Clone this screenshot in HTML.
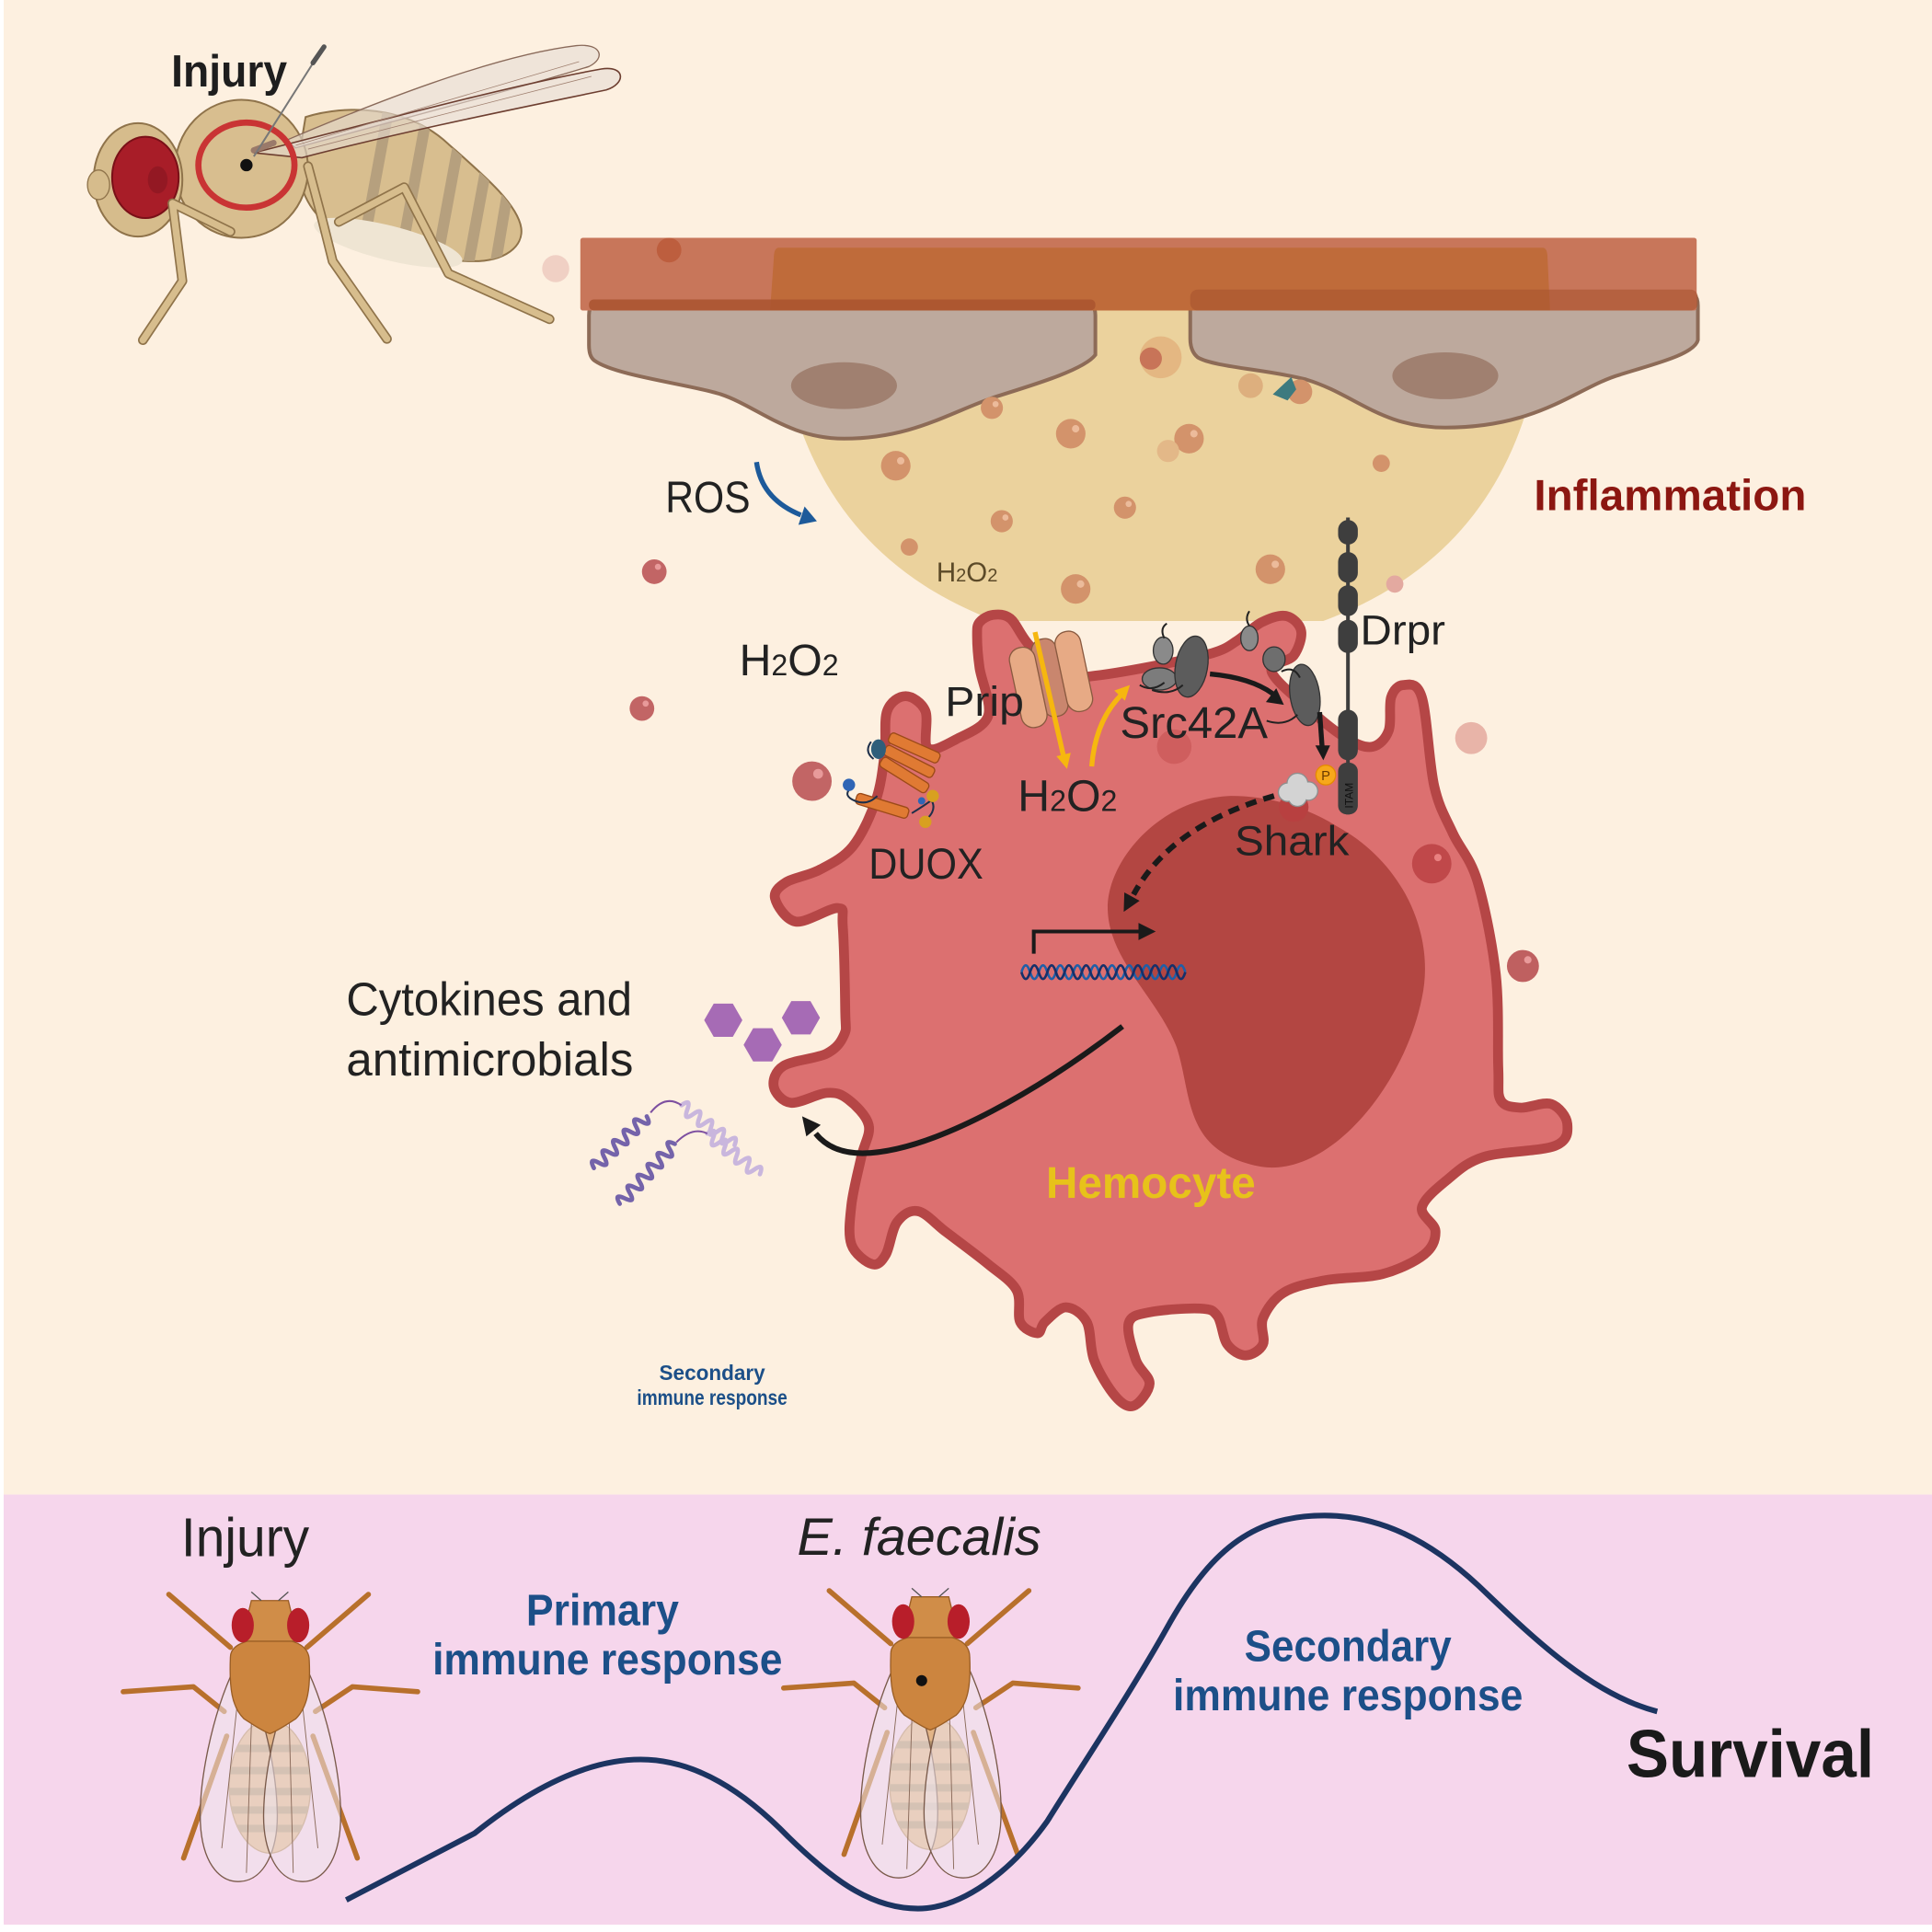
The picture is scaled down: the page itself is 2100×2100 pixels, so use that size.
<!DOCTYPE html>
<html><head><meta charset="utf-8"><style>
html,body{margin:0;padding:0;background:#fff;}
svg{display:block;}
text{font-family:"Liberation Sans",Arial,sans-serif;}
</style></head><body>
<svg xmlns="http://www.w3.org/2000/svg" xmlns:xlink="http://www.w3.org/1999/xlink" width="2100" height="2100" viewBox="0 0 1568 1568">
<defs>
  <clipPath id="abdTop"><path d="M248 95 C280 85,330 85,364 117 C390 140,420 165,423 185 C425 200,410 212,384 212 C350 212,300 205,270 185 C250 172,240 150,243 125 Z"/></clipPath>
  <clipPath id="abdBot"><ellipse cx="219" cy="1450" rx="33" ry="54"/></clipPath>
  <g id="fly">
    <g fill="none" stroke="#B8702C" stroke-width="4.2" stroke-linecap="round" stroke-linejoin="round">
      <path d="M187 1337 L137 1294"/>
      <path d="M249 1337 L299 1294"/>
      <path d="M182 1389 L157 1369 L100 1373"/>
      <path d="M256 1389 L286 1369 L339 1373"/>
      <path d="M184 1409 L149 1508"/>
      <path d="M254 1409 L290 1508"/>
    </g>
    <ellipse cx="219" cy="1450" rx="33" ry="54" fill="#E2B487" stroke="#B88A5E" stroke-width="1"/>
    <g clip-path="url(#abdBot)" fill="#B7976F">
      <rect x="180" y="1416" width="80" height="6"/>
      <rect x="180" y="1434" width="80" height="6"/>
      <rect x="180" y="1451" width="80" height="6"/>
      <rect x="180" y="1466" width="80" height="6"/>
      <rect x="180" y="1481" width="80" height="6"/>
    </g>
    <path d="M192 1350 C172 1390,160 1450,163 1485 C166 1515,180 1528,195 1527 C215 1526,226 1500,225 1470 C224 1430,212 1390,205 1370 Z" fill="#EEE6EC" fill-opacity="0.55" stroke="#7A5A4A" stroke-width="1"/>
    <path d="M247 1350 C267 1390,279 1450,276 1485 C273 1515,259 1528,244 1527 C224 1526,213 1500,214 1470 C215 1430,227 1390,234 1370 Z" fill="#EEE6EC" fill-opacity="0.55" stroke="#7A5A4A" stroke-width="1"/>
    <path d="M195 1360 L180 1500 M205 1370 L200 1520 M243 1360 L258 1500 M234 1370 L238 1520" stroke="#8A6A5A" stroke-width="0.7" fill="none"/>
    <path d="M187 1345 C187 1335,200 1330,219 1330 C238 1330,251 1335,251 1348 C252 1370,250 1385,240 1395 C232 1400,225 1405,219 1407 C213 1405,206 1400,198 1395 C188 1385,186 1370,187 1345 Z" fill="#CC853F" stroke="#9A5E25" stroke-width="1"/>
    <path d="M204 1299 L234 1299 L242 1332 L196 1332 Z" fill="#D08D48" stroke="#9A5E25" stroke-width="1"/>
    <ellipse cx="197" cy="1319" rx="9" ry="14" fill="#B81E2A"/>
    <ellipse cx="242" cy="1319" rx="9" ry="14" fill="#B81E2A"/>
    <path d="M212 1299 L204 1292 M226 1299 L234 1292" stroke="#555" stroke-width="1"/>
  </g>
</defs>

<rect x="0" y="0" width="1568" height="1568" fill="#ffffff"/>
<rect x="3" y="0" width="1565" height="1213" fill="#FDF0E0"/>
<rect x="3" y="1213" width="1565" height="349" fill="#F6D6EC"/>

<!-- ============ top-left fly ============ -->
<g>
  <path d="M248 95 C280 85,330 85,364 117 C390 140,420 165,423 185 C425 200,410 212,384 212 C350 212,300 205,270 185 C250 172,240 150,243 125 Z" fill="#D8BE8F" stroke="#8F734A" stroke-width="1.5"/>
  <g clip-path="url(#abdTop)" stroke="#B6A07E" stroke-width="9">
    <line x1="316" y1="85" x2="292" y2="215"/>
    <line x1="348" y1="85" x2="324" y2="215"/>
    <line x1="378" y1="85" x2="354" y2="215"/>
    <line x1="404" y1="85" x2="380" y2="215"/>
    <line x1="424" y1="85" x2="402" y2="215"/>
  </g>
  <ellipse cx="315" cy="197" rx="62" ry="14" transform="rotate(14 315 197)" fill="#EFE5D3"/>
  <ellipse cx="196" cy="137" rx="54" ry="56" fill="#D8BE8F" stroke="#8F734A" stroke-width="1.5"/>
  <ellipse cx="112" cy="146" rx="36" ry="46" fill="#D6BC8C" stroke="#8F734A" stroke-width="1.5"/>
  <ellipse cx="80" cy="150" rx="9" ry="12" fill="#D6BC8C" stroke="#8F734A" stroke-width="1"/>
  <ellipse cx="118" cy="144" rx="27" ry="33" fill="#A81D28" stroke="#7A1018" stroke-width="1.5"/>
  <ellipse cx="128" cy="146" rx="8" ry="11" fill="#861520" opacity="0.6"/>
  <g fill="none" stroke-linecap="round" stroke-linejoin="round">
    <path d="M187 188 L140 165 L148 228 L116 276" stroke="#8F734A" stroke-width="8"/>
    <path d="M187 188 L140 165 L148 228 L116 276" stroke="#D7BD8D" stroke-width="5.5"/>
    <path d="M250 135 L262 180 L270 212 L314 275" stroke="#8F734A" stroke-width="8"/>
    <path d="M250 135 L262 180 L270 212 L314 275" stroke="#D7BD8D" stroke-width="5.5"/>
    <path d="M275 180 L328 152 L364 222 L446 259" stroke="#8F734A" stroke-width="8"/>
    <path d="M275 180 L328 152 L364 222 L446 259" stroke="#D7BD8D" stroke-width="5.5"/>
  </g>
  <path d="M232 114 C300 85,400 45,468 37 C488 35,492 47,478 54 C410 75,320 98,240 120 Z" fill="#E6DCD4" fill-opacity="0.6" stroke="#8A6A5A" stroke-width="1"/>
  <path d="M206 124 C300 100,420 68,488 56 C508 53,508 68,492 73 C420 88,330 106,245 128 Z" fill="#E6DCD4" fill-opacity="0.6" stroke="#6D3E30" stroke-width="1.2"/>
  <path d="M240 118 L470 50 M250 121 L480 62" stroke="#A08070" stroke-width="0.6" fill="none"/>
  <path d="M206 122 L222 116" stroke="#9A7A6A" stroke-width="5" stroke-linecap="round"/>
  <ellipse cx="200" cy="134" rx="39" ry="34.5" fill="none" stroke="#C93434" stroke-width="5"/>
  <circle cx="200" cy="134" r="5" fill="#111"/>
  <line x1="206" y1="127" x2="258" y2="45" stroke="#777" stroke-width="1.5"/>
  <line x1="254" y1="51" x2="263" y2="38" stroke="#555" stroke-width="4" stroke-linecap="round"/>
</g>

<!-- ============ inflammation blob / epithelium ============ -->
<path d="M628 205 C628 330,665 450,808 504 L1074 504 C1219 450,1256 330,1256 205 Z" fill="#EBD29D"/>

<path d="M490 244 L877 244 Q889 244 889 256 L889 288 C880 300,840 312,808 322 C770 335,740 356,685 356 C640 356,615 330,585 320 C560 312,500 305,483 293 Q478 290 478 280 L478 256 Q478 244 490 244 Z" fill="#BDA99D" stroke="#8D6B57" stroke-width="3"/>
<ellipse cx="685" cy="313" rx="43" ry="19" fill="#A08070"/>
<path d="M978 236 L1366 236 Q1378 236 1378 248 L1378 276 C1375 288,1340 296,1315 304 C1280 314,1250 347,1173 347 C1120 347,1100 320,1060 308 C1030 300,985 298,972 290 Q966 285 966 275 L966 248 Q966 236 978 236 Z" fill="#BDA99D" stroke="#8D6B57" stroke-width="3"/>
<ellipse cx="1173" cy="305" rx="43" ry="19" fill="#A08070"/>

<rect x="471" y="193" width="906" height="59" rx="2" fill="#C8765A"/>
<path d="M632 201 L1252 201 Q1256 201 1256 210 L1258 252 L625 252 L628 210 Q628 201 632 201 Z" fill="#BF6B3A"/>
<rect x="478" y="243" width="411" height="9" rx="4" fill="#A9532F" opacity="0.85"/>
<rect x="966" y="235" width="412" height="17" rx="6" fill="#A9532F" opacity="0.6"/>

<!-- droplets -->
<g>
  <circle cx="543" cy="203" r="10" fill="#BD5E3E"/>
  <circle cx="451" cy="218" r="11" fill="#F0D0C4"/>
  <circle cx="942" cy="290" r="17" fill="#E2B07C" opacity="0.8"/>
  <circle cx="934" cy="291" r="9" fill="#C87458"/>
  <circle cx="1015" cy="313" r="10" fill="#DDAF7E"/>
  <circle cx="1055" cy="318" r="10" fill="#D3936B"/>
  <polygon points="1033,320 1048,306 1052,316 1045,325" fill="#3D7A7F"/>
  <circle cx="805" cy="331" r="9" fill="#D3936B"/>
  <circle cx="869" cy="352" r="12" fill="#D3936B"/>
  <circle cx="965" cy="356" r="12" fill="#D3936B"/>
  <circle cx="948" cy="366" r="9" fill="#E3B888"/>
  <circle cx="727" cy="378" r="12" fill="#D3936B"/>
  <circle cx="1121" cy="376" r="7" fill="#D3936B"/>
  <circle cx="913" cy="412" r="9" fill="#D3936B"/>
  <circle cx="813" cy="423" r="9" fill="#D3936B"/>
  <circle cx="738" cy="444" r="7" fill="#D3936B"/>
  <circle cx="1031" cy="462" r="12" fill="#D3936B"/>
  <circle cx="873" cy="478" r="12" fill="#D3936B"/>
  <circle cx="1132" cy="474" r="7" fill="#E3A9A0"/>
  <circle cx="531" cy="464" r="10" fill="#C26565"/>
  <circle cx="521" cy="575" r="10" fill="#C26565"/>
  <circle cx="659" cy="634" r="16" fill="#C26565"/>
  <circle cx="1194" cy="599" r="13" fill="#E8B4A8"/>
  <circle cx="1236" cy="784" r="13" fill="#BF6060"/>
  <g fill="#F2C6A8" opacity="0.8">
    <circle cx="808" cy="328" r="2.5"/><circle cx="873" cy="348" r="3"/><circle cx="969" cy="352" r="3"/>
    <circle cx="731" cy="374" r="3"/><circle cx="916" cy="409" r="2.5"/><circle cx="816" cy="420" r="2.5"/>
    <circle cx="1035" cy="458" r="3"/><circle cx="877" cy="474" r="3"/>
  </g>
  <g fill="#E89A9A">
    <circle cx="534" cy="460" r="2.5"/><circle cx="524" cy="571" r="2.5"/><circle cx="664" cy="628" r="4"/><circle cx="1240" cy="779" r="3"/>
  </g>
  <text x="760" y="472" font-size="22" fill="#5C4A28">H<tspan font-size="15">2</tspan>O<tspan font-size="15">2</tspan></text>
</g>

<!-- ============ hemocyte ============ -->
<path class="sm" d="M793,516 L795,505 L806,499 L820,502 L834,522 L859,549 L884,549 L934,541 L984,530 L1004,520 L1024,505 L1044,500 L1056,512 L1050,532 L1032,545 L1064,577 L1094,600 L1114,606 L1127,593 L1129,566 L1139,556 L1154,566 L1164,638 L1179,676 L1199,715 L1214,791 L1216,867 L1218,893 L1234,899 L1259,896 L1272,912 L1262,930 L1204,939 L1174,958 L1154,980 L1165,999 L1156,1018 L1122,1034 L1076,1039 L1042,1049 L1025,1070 L1025,1091 L1011,1100 L996,1091 L988,1068 L974,1062 L933,1065 L916,1074 L922,1104 L933,1123 L920,1141 L905,1133 L888,1104 L882,1073 L865,1061 L848,1073 L842,1082 L828,1073 L825,1047 L802,1026 L768,1000 L745,983 L728,992 L719,1018 L708,1026 L691,1010 L691,978 L699,939 L705,913 L688,892 L671,887 L642,895 L628,882 L636,865 L671,855 L685,840 L686,821 L684,752 L680,737 L646,748 L629,729 L638,716 L665,706 L692,687 L711,649 L718,611 L720,577 L735,565 L751,577 L753,607 L776,600 L802,581 L795,542 Z" fill="#DC7070" stroke="#B54646" stroke-width="8" stroke-linejoin="round"/>

<circle cx="953" cy="606" r="14" fill="#CF5E5E"/>
<circle cx="1162" cy="701" r="16" fill="#C0484A"/>
<circle cx="1167" cy="696" r="3" fill="#E98080"/>

<path d="M999 646 C940 648,898 700,899 738 C900 780,940 810,955 850 C968 890,960 935,1024 947 C1080 955,1140 880,1154 810 C1165 760,1140 700,1084 670 C1060 655,1030 646,999 646 Z" fill="#B34642"/>
<circle cx="1050" cy="655" r="12" fill="#B84040"/>

<!-- Prip -->
<rect x="842" y="518" width="20" height="64" rx="9" fill="#C9866E" stroke="#8A5A40" stroke-width="1" transform="rotate(-12 852 550)"/>
<rect x="824" y="525" width="21" height="66" rx="10" fill="#E7AA85" stroke="#8A5A40" stroke-width="1" transform="rotate(-12 834 558)"/>
<rect x="861" y="512" width="21" height="66" rx="10" fill="#E7AA85" stroke="#8A5A40" stroke-width="1" transform="rotate(-12 871 545)"/>

<!-- yellow arrows -->
<line x1="840" y1="513" x2="863" y2="613" stroke="#F6B70F" stroke-width="4"/>
<polygon points="866,624 857.4,613.8 869,611" fill="#F6B70F"/>
<path d="M886 622 Q889 585 910 564" fill="none" stroke="#F6B70F" stroke-width="4"/>
<polygon points="917,556 913,568.7 904.4,560.5" fill="#F6B70F"/>

<!-- DUOX -->
<g fill="#E07A33" stroke="#9C4A18" stroke-width="1">
  <rect x="-22" y="-4.5" width="44" height="9" rx="3" transform="translate(742,607) rotate(24)"/>
  <rect x="-22" y="-4.5" width="44" height="9" rx="3" transform="translate(738,618) rotate(27)"/>
  <rect x="-22" y="-4.5" width="44" height="9" rx="3" transform="translate(734,629) rotate(32)"/>
  <rect x="-22" y="-4.5" width="44" height="9" rx="3" transform="translate(716,654) rotate(17)"/>
</g>
<path d="M707 602 q-6 8 2 14 M690 640 q-6 6 4 10 q10 4 18 -4 M740 660 q10 -6 18 -12 M755 648 q6 8 -2 16" fill="none" stroke="#1E2F4A" stroke-width="1.5"/>
<ellipse cx="713" cy="608" rx="6" ry="8" fill="#2E5E7A"/>
<circle cx="689" cy="637" r="5" fill="#2F65B5"/>
<circle cx="748" cy="650" r="3" fill="#2F65B5"/>
<circle cx="757" cy="646" r="5" fill="#D8A020"/>
<circle cx="751" cy="667" r="5" fill="#D8A020"/>

<!-- Src42A -->
<g stroke="#333" stroke-width="1">
  <ellipse cx="944" cy="528" rx="8" ry="11" fill="#8A8A8A"/>
  <ellipse cx="941" cy="551" rx="14" ry="9" fill="#7C7C7C"/>
  <ellipse cx="967" cy="541" rx="13" ry="25" fill="#5C5C5C" transform="rotate(10 967 541)"/>
  <ellipse cx="1014" cy="518" rx="7" ry="10" fill="#8A8A8A"/>
  <ellipse cx="1034" cy="535" rx="9" ry="10" fill="#6E6E6E"/>
  <ellipse cx="1059" cy="564" rx="12" ry="25" fill="#5C5C5C" transform="rotate(-8 1059 564)"/>
</g>
<path d="M925 556 q10 6 20 -2 M945 518 q-4 -8 2 -12 M1014 508 q-4 -6 0 -12 M1040 545 q10 -5 15 5 M1028 585 q15 5 25 -5 M935 560 q15 5 25 -4" fill="none" stroke="#222" stroke-width="1.5"/>

<!-- black arrows -->
<path d="M982 547 Q1015 550 1033 563" fill="none" stroke="#1A1A1A" stroke-width="4"/>
<polygon points="1042,572 1027.4,569.8 1035.8,558.6" fill="#1A1A1A"/>
<line x1="1071" y1="578" x2="1073" y2="606" stroke="#1A1A1A" stroke-width="4"/>
<polygon points="1074,617 1067.5,605 1079.5,605" fill="#1A1A1A"/>
<path d="M1034 646 Q950 670 920 726" fill="none" stroke="#1A1A1A" stroke-width="4.5" stroke-dasharray="9 6"/>
<polygon points="912,740 924.9,731.1 912.5,724.3" fill="#1A1A1A"/>
<path d="M839 774 L839 756 L925 756" fill="none" stroke="#1A1A1A" stroke-width="3"/>
<polygon points="938,756 924,749 924,763" fill="#1A1A1A"/>
<path d="M829 789 q3.5 -11 7 0 t7 0 t7 0 t7 0 t7 0 t7 0 t7 0 t7 0 t7 0 t7 0 t7 0 t7 0 t7 0 t7 0 t7 0 t7 0 t7 0 t7 0 t7 0" fill="none" stroke="#1F5FA8" stroke-width="2"/>
<path d="M829 789 q3.5 11 7 0 t7 0 t7 0 t7 0 t7 0 t7 0 t7 0 t7 0 t7 0 t7 0 t7 0 t7 0 t7 0 t7 0 t7 0 t7 0 t7 0 t7 0 t7 0" fill="none" stroke="#16306A" stroke-width="2"/>
<path d="M911 833 C850 880,760 935,700 936 C682 936,670 930,662 920" fill="none" stroke="#1A1A1A" stroke-width="4.5"/>
<polygon points="651,906 666.1,913 654.4,922.3" fill="#1A1A1A"/>

<!-- Drpr -->
<line x1="1094" y1="420" x2="1094" y2="661" stroke="#3D3D3D" stroke-width="3"/>
<g fill="#3E3E3E">
  <rect x="1086" y="422" width="16" height="20" rx="8"/>
  <rect x="1086" y="448" width="16" height="25" rx="8"/>
  <rect x="1086" y="475" width="16" height="25" rx="8"/>
  <rect x="1086" y="503" width="16" height="27" rx="8"/>
  <rect x="1086" y="576" width="16" height="41" rx="8"/>
  <rect x="1086" y="619" width="16" height="42" rx="7"/>
</g>
<text x="0" y="0" font-size="9" fill="#111" transform="translate(1098,656) rotate(-90)">ITAM</text>
<circle cx="1076" cy="629" r="8" fill="#F7A81B" stroke="#E58B00" stroke-width="1"/>
<text x="1076" y="633" font-size="11" fill="#6A3A00" text-anchor="middle">P</text>
<g>
  <g fill="#8E8E8E">
    <circle cx="1045" cy="643" r="8"/><circle cx="1053" cy="636" r="9"/><circle cx="1062" cy="642" r="8"/><circle cx="1053" cy="647" r="8"/>
  </g>
  <g fill="#D3D3D3">
    <circle cx="1045" cy="643" r="7"/><circle cx="1053" cy="636" r="8"/><circle cx="1062" cy="642" r="7"/><circle cx="1053" cy="647" r="7"/>
  </g>
</g>

<!-- cytokines / antimicrobials -->
<g fill="#A66BB5">
  <polygon points="571.5,828 579.25,814.5 594.75,814.5 602.5,828 594.75,841.5 579.25,841.5"/>
  <polygon points="603.5,848 611.25,834.5 626.75,834.5 634.5,848 626.75,861.5 611.25,861.5"/>
  <polygon points="634.5,826 642.25,812.5 657.75,812.5 665.5,826 657.75,839.5 642.25,839.5"/>
</g>
<g fill="none" stroke-width="3.5" stroke-linecap="round">
  <path transform="translate(482,948) rotate(-44.4)" d="M0 0 q3 -10 6 0 t6 0 t6 0 t6 0 t6 0 t6 0 t6 0 t6 0 t6 0 t6 0" stroke="#7463AA"/>
  <path transform="translate(553,897) rotate(36.9)" d="M0 0 q3 -10 6 0 t6 0 t6 0 t6 0 t6 0 t6 0 t6 0 t6 0 t6 0" stroke="#C9B6DD"/>
  <path transform="translate(503,977) rotate(-47.4)" d="M0 0 q3 -10 6 0 t6 0 t6 0 t6 0 t6 0 t6 0 t6 0 t6 0 t6 0 t6 0 t6 0" stroke="#7463AA"/>
  <path transform="translate(574,920) rotate(37.7)" d="M0 0 q3 -10 6 0 t6 0 t6 0 t6 0 t6 0 t6 0 t6 0 t6 0 t6 0" stroke="#C9B6DD"/>
</g>
<path d="M528 903 Q540 888 553 897 M549 927 Q562 914 574 920" fill="none" stroke="#7D4FA0" stroke-width="1.5"/>

<!-- ============ bottom panel ============ -->
<use xlink:href="#fly" href="#fly"/>
<use xlink:href="#fly" href="#fly" transform="translate(536,-3)"/>
<circle cx="748" cy="1364" r="4.5" fill="#111"/>

<path d="M281 1542 L385 1488 C420 1460,470 1428,520 1428 C565 1428,605 1455,640 1491 C680 1530,710 1549,745 1549 C780 1549,820 1520,850 1478 C880 1430,920 1370,950 1316 C985 1255,1020 1230,1075 1230 C1120 1230,1160 1250,1200 1287 C1240 1325,1290 1375,1345 1389" fill="none" stroke="#1C3461" stroke-width="4.5" stroke-linejoin="round"/>

<!-- ============ text ============ -->
<text x="139" y="70" font-size="37" font-weight="bold" fill="#1E1E1E" textLength="94" lengthAdjust="spacingAndGlyphs">Injury</text>
<text x="540" y="416" font-size="36" fill="#222" textLength="69" lengthAdjust="spacingAndGlyphs">ROS</text>
<path d="M614 375 Q618 405 650 418" fill="none" stroke="#1D5A9A" stroke-width="4"/>
<polygon points="663,423 648,426 653,411" fill="#1D5A9A"/>
<text x="1245" y="414" font-size="35" font-weight="bold" fill="#8C1711" textLength="221" lengthAdjust="spacingAndGlyphs">Inflammation</text>
<text x="600" y="548" font-size="36" fill="#222">H<tspan font-size="24">2</tspan>O<tspan font-size="24">2</tspan></text>
<text x="1104" y="523" font-size="34" fill="#222" textLength="69" lengthAdjust="spacingAndGlyphs">Drpr</text>
<text x="767" y="581" font-size="34" fill="#222" textLength="64" lengthAdjust="spacingAndGlyphs">Prip</text>
<text x="909" y="599" font-size="36" fill="#222" textLength="120" lengthAdjust="spacingAndGlyphs">Src42A</text>
<text x="826" y="658" font-size="36" fill="#222">H<tspan font-size="24">2</tspan>O<tspan font-size="24">2</tspan></text>
<text x="1002" y="694" font-size="34" fill="#222" textLength="93" lengthAdjust="spacingAndGlyphs">Shark</text>
<text x="705" y="713" font-size="35" fill="#222" textLength="93" lengthAdjust="spacingAndGlyphs">DUOX</text>
<text x="281" y="824" font-size="38" fill="#222" textLength="232" lengthAdjust="spacingAndGlyphs">Cytokines and</text>
<text x="281" y="873" font-size="38" fill="#222" textLength="233" lengthAdjust="spacingAndGlyphs">antimicrobials</text>
<text x="849" y="972" font-size="36" font-weight="bold" fill="#E7C21A" textLength="170" lengthAdjust="spacingAndGlyphs">Hemocyte</text>
<text x="578" y="1120" font-size="17" font-weight="bold" fill="#1C4F88" text-anchor="middle" textLength="86" lengthAdjust="spacingAndGlyphs">Secondary</text>
<text x="578" y="1140" font-size="17" font-weight="bold" fill="#1C4F88" text-anchor="middle" textLength="122" lengthAdjust="spacingAndGlyphs">immune response</text>

<text x="147" y="1263" font-size="44" fill="#222" textLength="104" lengthAdjust="spacingAndGlyphs">Injury</text>
<text x="647" y="1262" font-size="43" font-style="italic" fill="#222" textLength="198" lengthAdjust="spacingAndGlyphs">E. faecalis</text>
<text x="427" y="1319" font-size="36" font-weight="bold" fill="#1C4F88" textLength="124" lengthAdjust="spacingAndGlyphs">Primary</text>
<text x="351" y="1359" font-size="36" font-weight="bold" fill="#1C4F88" textLength="284" lengthAdjust="spacingAndGlyphs">immune response</text>
<text x="1010" y="1348" font-size="36" font-weight="bold" fill="#1C4F88" textLength="168" lengthAdjust="spacingAndGlyphs">Secondary</text>
<text x="952" y="1388" font-size="36" font-weight="bold" fill="#1C4F88" textLength="284" lengthAdjust="spacingAndGlyphs">immune response</text>
<text x="1320" y="1442" font-size="55" font-weight="bold" fill="#1A1A1A" textLength="201" lengthAdjust="spacingAndGlyphs">Survival</text>
</svg>
<script>
(function(){
  var ps=document.querySelectorAll('path.sm');
  for(var k=0;k<ps.length;k++){
    var p=ps[k];
    var n=p.getAttribute('d').match(/-?\d+(\.\d+)?/g).map(Number);
    var pts=[];for(var i=0;i+1<n.length;i+=2)pts.push([n[i],n[i+1]]);
    var L=pts.length,t=1/6,d='M'+pts[0][0]+','+pts[0][1];
    for(var i=0;i<L;i++){
      var p0=pts[(i-1+L)%L],p1=pts[i],p2=pts[(i+1)%L],p3=pts[(i+2)%L];
      d+=' C'+(p1[0]+(p2[0]-p0[0])*t).toFixed(1)+','+(p1[1]+(p2[1]-p0[1])*t).toFixed(1)+' '+(p2[0]-(p3[0]-p1[0])*t).toFixed(1)+','+(p2[1]-(p3[1]-p1[1])*t).toFixed(1)+' '+p2[0]+','+p2[1];
    }
    p.setAttribute('d',d+' Z');
  }
})();
</script>
</body></html>
